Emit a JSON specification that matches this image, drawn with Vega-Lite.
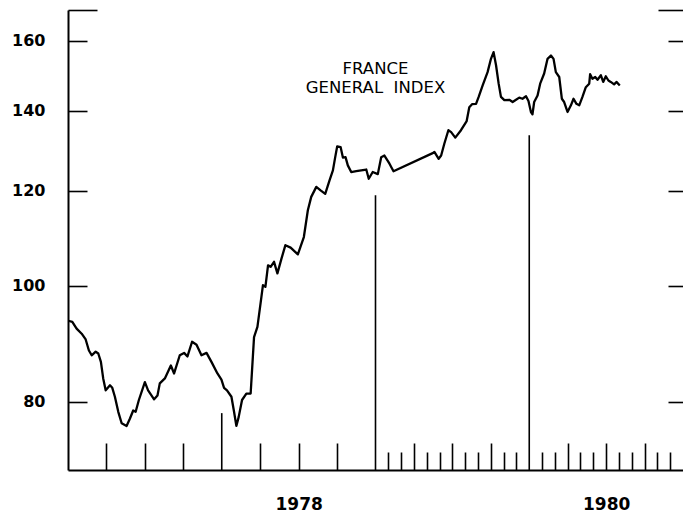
{
  "$schema": "https://vega.github.io/schema/vega-lite/v6.json",
  "width": 615,
  "height": 460,
  "autosize": {"type": "none"},
  "padding": {"left": 68, "top": 10, "right": 0, "bottom": 47},
  "background": "white",
  "config": {"view": {"stroke": null}, "font": "DejaVu Sans"},
  "title": {
    "text": "FRANCE",
    "subtitle": "GENERAL\u00a0 INDEX",
    "anchor": "middle",
    "orient": "top",
    "offset": -94,
    "font": "DejaVu Sans",
    "fontSize": 16.5,
    "fontWeight": "normal",
    "color": "black",
    "subtitleFont": "DejaVu Sans",
    "subtitleFontSize": 16.5,
    "subtitleColor": "black",
    "subtitlePadding": 2
  },
  "datasets": {
    "series": [
      {"t": 1977.002, "v": 93.5}, {"t": 1977.028, "v": 93.3}, {"t": 1977.056, "v": 92.1}, {"t": 1977.089, "v": 91.2},
      {"t": 1977.115, "v": 90.2}, {"t": 1977.136, "v": 88.3}, {"t": 1977.154, "v": 87.5}, {"t": 1977.18, "v": 88.1},
      {"t": 1977.197, "v": 87.8}, {"t": 1977.214, "v": 86.4}, {"t": 1977.229, "v": 83.7}, {"t": 1977.245, "v": 81.8},
      {"t": 1977.255, "v": 82.1}, {"t": 1977.273, "v": 82.6}, {"t": 1977.288, "v": 82.2}, {"t": 1977.305, "v": 80.8},
      {"t": 1977.327, "v": 78.5}, {"t": 1977.349, "v": 76.8}, {"t": 1977.381, "v": 76.4}, {"t": 1977.403, "v": 77.5},
      {"t": 1977.424, "v": 78.7}, {"t": 1977.44, "v": 78.5}, {"t": 1977.461, "v": 80.3}, {"t": 1977.5, "v": 83.1},
      {"t": 1977.521, "v": 81.8}, {"t": 1977.56, "v": 80.4}, {"t": 1977.582, "v": 81.0}, {"t": 1977.597, "v": 82.9},
      {"t": 1977.63, "v": 83.7}, {"t": 1977.669, "v": 85.8}, {"t": 1977.69, "v": 84.5}, {"t": 1977.727, "v": 87.5},
      {"t": 1977.755, "v": 87.9}, {"t": 1977.777, "v": 87.3}, {"t": 1977.807, "v": 89.8}, {"t": 1977.836, "v": 89.3},
      {"t": 1977.868, "v": 87.5}, {"t": 1977.901, "v": 87.9}, {"t": 1977.933, "v": 86.4}, {"t": 1977.972, "v": 84.5},
      {"t": 1977.998, "v": 83.5}, {"t": 1978.015, "v": 82.2}, {"t": 1978.034, "v": 81.8}, {"t": 1978.063, "v": 80.8},
      {"t": 1978.08, "v": 78.5}, {"t": 1978.095, "v": 76.4}, {"t": 1978.11, "v": 77.7}, {"t": 1978.132, "v": 80.3},
      {"t": 1978.16, "v": 81.3}, {"t": 1978.188, "v": 81.3}, {"t": 1978.197, "v": 85.0}, {"t": 1978.21, "v": 90.6},
      {"t": 1978.232, "v": 92.4}, {"t": 1978.258, "v": 97.9}, {"t": 1978.268, "v": 100.1}, {"t": 1978.284, "v": 99.8},
      {"t": 1978.301, "v": 104.0}, {"t": 1978.318, "v": 103.7}, {"t": 1978.34, "v": 104.7}, {"t": 1978.362, "v": 102.4},
      {"t": 1978.388, "v": 105.3}, {"t": 1978.414, "v": 108.1}, {"t": 1978.448, "v": 107.6}, {"t": 1978.495, "v": 106.2},
      {"t": 1978.534, "v": 109.8}, {"t": 1978.56, "v": 115.6}, {"t": 1978.582, "v": 118.6}, {"t": 1978.615, "v": 120.9},
      {"t": 1978.643, "v": 120.1}, {"t": 1978.673, "v": 119.3}, {"t": 1978.701, "v": 122.4}, {"t": 1978.723, "v": 124.8},
      {"t": 1978.738, "v": 128.0}, {"t": 1978.751, "v": 130.7}, {"t": 1978.773, "v": 130.5}, {"t": 1978.788, "v": 127.9},
      {"t": 1978.805, "v": 128.0}, {"t": 1978.82, "v": 126.0}, {"t": 1978.842, "v": 124.4}, {"t": 1978.875, "v": 124.6},
      {"t": 1978.907, "v": 124.8}, {"t": 1978.94, "v": 125.0}, {"t": 1978.956, "v": 122.8}, {"t": 1978.982, "v": 124.4},
      {"t": 1979.015, "v": 123.9}, {"t": 1979.037, "v": 128.0}, {"t": 1979.058, "v": 128.4}, {"t": 1979.091, "v": 126.4},
      {"t": 1979.117, "v": 124.6}, {"t": 1979.372, "v": 129.0}, {"t": 1979.383, "v": 129.3}, {"t": 1979.411, "v": 127.6},
      {"t": 1979.427, "v": 128.4}, {"t": 1979.448, "v": 131.4}, {"t": 1979.474, "v": 134.8}, {"t": 1979.492, "v": 134.3},
      {"t": 1979.519, "v": 132.9}, {"t": 1979.556, "v": 134.8}, {"t": 1979.593, "v": 137.2}, {"t": 1979.61, "v": 140.9},
      {"t": 1979.628, "v": 141.7}, {"t": 1979.654, "v": 141.8}, {"t": 1979.671, "v": 143.7}, {"t": 1979.697, "v": 146.9},
      {"t": 1979.729, "v": 150.7}, {"t": 1979.751, "v": 154.6}, {"t": 1979.768, "v": 156.6}, {"t": 1979.784, "v": 152.7},
      {"t": 1979.801, "v": 147.4}, {"t": 1979.816, "v": 143.7}, {"t": 1979.838, "v": 142.8}, {"t": 1979.87, "v": 142.9},
      {"t": 1979.892, "v": 142.3}, {"t": 1979.914, "v": 142.9}, {"t": 1979.935, "v": 143.5}, {"t": 1979.956, "v": 143.2},
      {"t": 1979.979, "v": 143.9}, {"t": 1979.995, "v": 142.6}, {"t": 1980.011, "v": 139.6}, {"t": 1980.021, "v": 139.0},
      {"t": 1980.032, "v": 142.3}, {"t": 1980.054, "v": 144.1}, {"t": 1980.071, "v": 147.4}, {"t": 1980.097, "v": 150.3},
      {"t": 1980.119, "v": 154.6}, {"t": 1980.141, "v": 155.6}, {"t": 1980.158, "v": 154.6}, {"t": 1980.173, "v": 150.7},
      {"t": 1980.195, "v": 149.3}, {"t": 1980.212, "v": 143.2}, {"t": 1980.227, "v": 142.3}, {"t": 1980.249, "v": 139.6},
      {"t": 1980.271, "v": 141.4}, {"t": 1980.288, "v": 143.2}, {"t": 1980.307, "v": 141.8}, {"t": 1980.325, "v": 141.4},
      {"t": 1980.346, "v": 143.7}, {"t": 1980.368, "v": 146.4}, {"t": 1980.39, "v": 147.4}, {"t": 1980.396, "v": 150.1},
      {"t": 1980.411, "v": 148.8}, {"t": 1980.429, "v": 149.3}, {"t": 1980.444, "v": 148.5}, {"t": 1980.466, "v": 149.8},
      {"t": 1980.481, "v": 147.9}, {"t": 1980.498, "v": 149.5}, {"t": 1980.515, "v": 148.3}, {"t": 1980.53, "v": 147.9},
      {"t": 1980.552, "v": 147.2}, {"t": 1980.567, "v": 147.9}, {"t": 1980.589, "v": 146.9}
    ],
    "years": [
      {"t": 1978, "v": 78.3},
      {"t": 1979, "v": 119.0},
      {"t": 1980, "v": 133.5}
    ]
  },
  "resolve": {"axis": {"y": "independent"}},
  "layer": [
    {
      "data": {"name": "series"},
      "mark": {"type": "line", "color": "black", "strokeWidth": 2.3, "strokeJoin": "round"},
      "encoding": {
        "x": {
          "field": "t", "type": "quantitative",
          "scale": {"domain": [1977, 1981], "nice": false, "zero": false},
          "axis": {
            "title": null,
            "grid": false,
            "domainColor": "black",
            "domainWidth": 2,
            "tickColor": "black",
            "tickWidth": 1.6,
            "tickCount": 200,
            "tickSize": {"condition": {"test": "abs(datum.value*4 - round(datum.value*4)) < 0.01", "value": -27}, "value": -18},
            "values": [1977.25, 1977.5, 1977.75, 1978.25, 1978.5, 1978.75,
                       1979.0833, 1979.1667, 1979.25, 1979.3333, 1979.4167, 1979.5, 1979.5833, 1979.6667, 1979.75, 1979.8333, 1979.9167,
                       1980.0833, 1980.1667, 1980.25, 1980.3333, 1980.4167, 1980.5, 1980.5833, 1980.6667, 1980.75, 1980.8333, 1980.9167],
            "labelExpr": "datum.value == 1978.5 ? '1978' : (datum.value == 1980.5 ? '1980' : '')",
            "labelFont": "DejaVu Sans",
            "labelFontSize": 17,
            "labelFontWeight": "bold",
            "labelColor": "black",
            "labelPadding": 53,
            "labelFlush": false,
            "labelOverlap": false
          }
        },
        "y": {
          "field": "v", "type": "quantitative",
          "scale": {"type": "log", "domain": [70.2, 169.8], "nice": false, "zero": false},
          "axis": {
            "title": null,
            "grid": false,
            "orient": "left",
            "domainColor": "black",
            "domainWidth": 2,
            "tickColor": "black",
            "tickWidth": 1.6,
            "tickCount": 50,
            "tickSize": {"condition": {"test": "datum.value > 169", "value": -29}, "value": -19},
            "values": [80, 100, 120, 140, 160, 169.8],
            "labelExpr": "datum.value > 169 ? '' : datum.label",
            "labelFont": "DejaVu Sans",
            "labelFontSize": 16,
            "labelFontWeight": "bold",
            "labelColor": "black",
            "labelPadding": 42,
            "labelFlush": false,
            "labelOverlap": false
          }
        }
      }
    },
    {
      "data": {"name": "years"},
      "mark": {"type": "rule", "color": "black", "strokeWidth": 1.6},
      "encoding": {
        "x": {"field": "t", "type": "quantitative"},
        "y": {
          "field": "v", "type": "quantitative",
          "axis": {
            "title": null,
            "grid": false,
            "orient": "right",
            "domain": false,
            "labels": false,
            "tickColor": "black",
            "tickWidth": 1.6,
            "tickCount": 50,
            "tickSize": {"condition": {"test": "datum.value > 169", "value": -25}, "value": -15},
            "values": [80, 100, 120, 140, 160, 169.8]
          }
        },
        "y2": {"datum": 70.2}
      }
    }
  ]
}
